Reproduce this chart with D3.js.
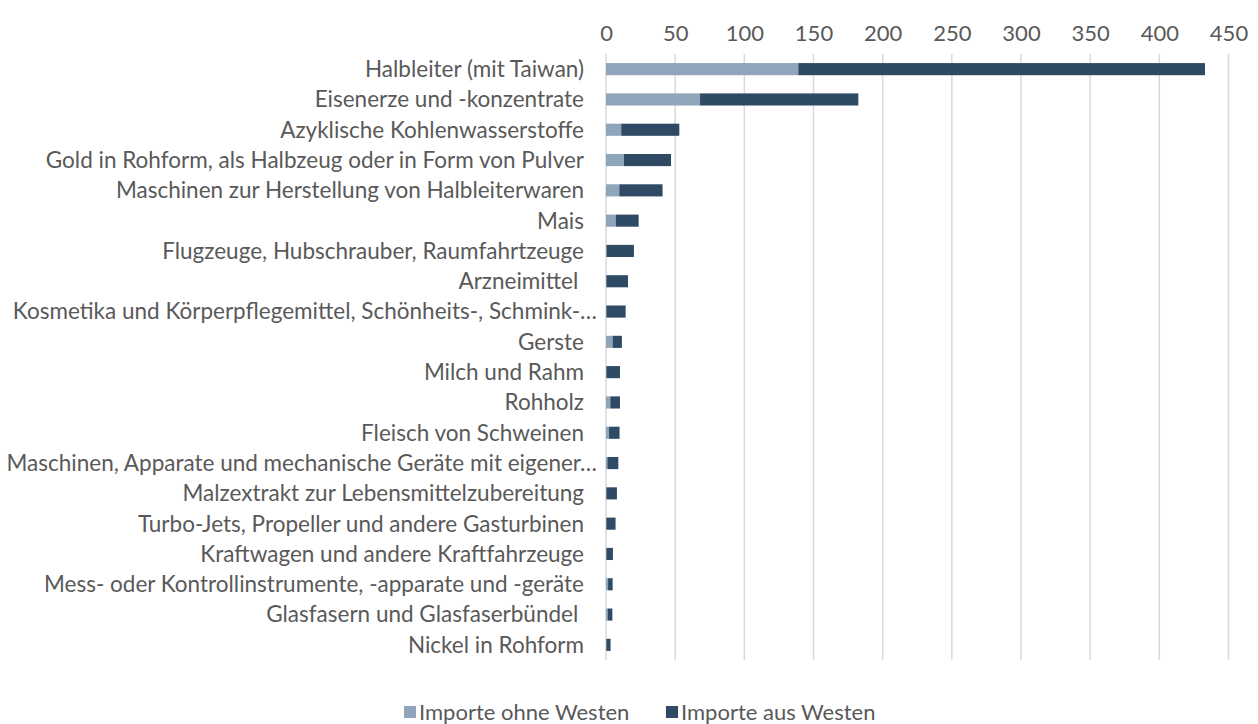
<!DOCTYPE html>
<html>
<head>
<meta charset="utf-8">
<script src="https://cdn.jsdelivr.net/npm/d3@7"></script>
<style>
body { margin: 0; background: #fff; }
text { font-family: Lato, "Open Sans", sans-serif; fill: #595959; white-space: pre; }
</style>
</head>
<body>
<svg width="1258" height="724"></svg>
<script>
var categories = [
  "Halbleiter (mit Taiwan)",
  "Eisenerze und -konzentrate",
  "Azyklische Kohlenwasserstoffe",
  "Gold in Rohform, als Halbzeug oder in Form von Pulver",
  "Maschinen zur Herstellung von Halbleiterwaren",
  "Mais",
  "Flugzeuge, Hubschrauber, Raumfahrtzeuge",
  "Arzneimittel ",
  "Kosmetika und Körperpflegemittel, Schönheits-, Schmink-…",
  "Gerste",
  "Milch und Rahm",
  "Rohholz",
  "Fleisch von Schweinen",
  "Maschinen, Apparate und mechanische Geräte mit eigener…",
  "Malzextrakt zur Lebensmittelzubereitung",
  "Turbo-Jets, Propeller und andere Gasturbinen",
  "Kraftwagen und andere Kraftfahrzeuge",
  "Mess- oder Kontrollinstrumente, -apparate und -geräte",
  "Glasfasern und Glasfaserbündel ",
  "Nickel in Rohform"
];
var ohneWesten = [139, 68, 11, 13, 9.6, 7, 0.4, 0.3, 0.3, 4.8, 0.3, 3.1, 2.2, 1, 0.3, 0.3, 0.3, 1.5, 1.2, 0.3];
var ausWesten  = [294, 114.4, 42, 34, 31.3, 16.6, 19.8, 15.6, 13.9, 6.7, 9.8, 7, 7.6, 7.9, 7.6, 6.6, 4.7, 3.3, 3.4, 3];
var xTicks = [0, 50, 100, 150, 200, 250, 300, 350, 400, 450];
var seriesNames = ["Importe ohne Westen", "Importe aus Westen"];
var colors = ["#8fa5b9", "#2f4a65"];

var svg = d3.select("svg"),
    margin = {top: 54, left: 606, right: 30, bottom: 64},
    width = 1228.5 - margin.left,
    height = 660 - margin.top;

var x = d3.scaleLinear().domain([0, 450]).range([0, width]);
var y = d3.scaleBand().domain(categories).range([0, height])
    .paddingInner(0.6).paddingOuter(0.3);

var g = svg.append("g")
    .attr("transform", "translate(" + margin.left + "," + margin.top + ")");

// gridlines
g.append("g")
    .selectAll("line")
    .data(xTicks)
    .enter().append("line")
    .attr("x1", function(d) { return x(d); })
    .attr("x2", function(d) { return x(d); })
    .attr("y1", 0)
    .attr("y2", height)
    .attr("stroke", "#d9d9d9")
    .attr("stroke-width", 1.5);

// top axis labels
var xAxis = d3.axisTop(x).tickValues(xTicks).tickSize(0).tickPadding(0);
var ax = g.append("g")
    .attr("transform", "translate(0,-13)")
    .call(xAxis);
ax.select(".domain").remove();
ax.selectAll("text")
    .style("font-size", "22px")
    .style("font-family", "Lato, sans-serif")
    .attr("fill", "#595959");

// stacked data
var rows = categories.map(function(c, i) {
  return {cat: c, v: [ohneWesten[i], ausWesten[i]]};
});

var series = [0, 1].map(function(s) {
  return rows.map(function(r) {
    var x0 = s === 0 ? 0 : r.v[0];
    return {cat: r.cat, x0: x0, x1: x0 + r.v[s]};
  });
});

g.selectAll(".series")
    .data(series)
    .enter().append("g")
    .attr("fill", function(d, i) { return colors[i]; })
    .selectAll("rect")
    .data(function(d) { return d; })
    .enter().append("rect")
    .attr("x", function(d) { return x(d.x0); })
    .attr("y", function(d) { return y(d.cat); })
    .attr("width", function(d) { return x(d.x1) - x(d.x0); })
    .attr("height", y.bandwidth());

// category labels
g.selectAll(".cat")
    .data(categories)
    .enter().append("text")
    .attr("class", "cat")
    .attr("x", function(d) { return d.slice(-1) === "…" ? -9 : -22; })
    .attr("y", function(d) { return y(d) + y.bandwidth() / 2; })
    .attr("dy", "0.35em")
    .attr("text-anchor", "end")
    .style("font-size", "22.5px")
    .text(function(d) { return d; });

// legend
var legendX = [404, 666];
var legend = svg.append("g").attr("transform", "translate(0,712)");
seriesNames.forEach(function(name, i) {
  legend.append("rect")
      .attr("x", legendX[i])
      .attr("y", -6)
      .attr("width", 12)
      .attr("height", 12)
      .attr("fill", colors[i]);
  legend.append("text")
      .attr("x", legendX[i] + 15)
      .attr("y", 0)
      .attr("dy", "0.35em")
      .style("font-size", "22px")
      .text(name);
});
</script>
</body>
</html>
